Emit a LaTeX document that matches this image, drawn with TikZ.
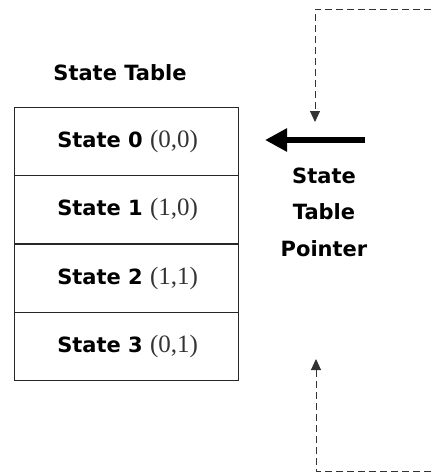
\documentclass[tikz,border=0pt]{standalone}
\usepackage{fontspec}
\setmainfont{Liberation Serif}
\newfontfamily\comicfont{DejaVu Sans}
\usetikzlibrary{arrows.meta}
\newcommand{\coordtext}[1]{{\normalfont\mdseries\color{black!80}\fontsize{25}{27}\selectfont #1}}
\begin{document}
\begin{tikzpicture}[x=1pt,y=-1pt,
  rowbox/.style={draw=black!85, line width=1.3pt, minimum width=224pt, minimum height=68pt, inner sep=0pt, anchor=north west},
  lbl/.style={font=\comicfont\bfseries\fontsize{21}{23}\selectfont, inner sep=0pt},
  dashline/.style={draw=black!80, line width=1pt, dash pattern=on 7pt off 4pt},
  dtip/.style={-{Triangle[width=10pt,length=11pt]}},
]
\useasboundingbox (0,0) rectangle (431,472);
\node[rowbox] (r0) at (14,107) {};
\node[rowbox] (r1) at (14,175) {};
\node[rowbox] (r2) at (14,244) {};
\node[rowbox] (r3) at (14,312) {};
\node[lbl] (title) at (120,73) {State Table};
\node[lbl] (t0) at ([xshift=1pt]r0.center) {State 0 \coordtext{(0,0)}};
\node[lbl] (t1) at ([xshift=1pt]r1.center) {State 1 \coordtext{(1,0)}};
\node[lbl] (t2) at ([xshift=1pt]r2.center) {State 2 \coordtext{(1,1)}};
\node[lbl] (t3) at ([xshift=1pt]r3.center) {State 3 \coordtext{(0,1)}};
\node[lbl] (p1) at (324,176) {State};
\node[lbl] (p2) at (324,212) {Table};
\node[lbl] (p3) at (324,249) {Pointer};
\coordinate (arrowstart) at (365,140);
\coordinate (arrowend) at (265,140);
\draw[line width=6pt, -{Triangle[width=22pt,length=22pt]}] (arrowstart) -- (arrowend);
\coordinate (topright) at (431,9);
\coordinate (topcorner) at (315,9);
\coordinate (toptip) at (315,122);
\draw[dashline, dtip] (topright) -- (topcorner) -- (toptip);
\coordinate (botright) at (431,471);
\coordinate (botcorner) at (316,471);
\coordinate (bottip) at (316,359);
\draw[dashline, dtip] (botright) -- (botcorner) -- (bottip);
\end{tikzpicture}
\end{document}
